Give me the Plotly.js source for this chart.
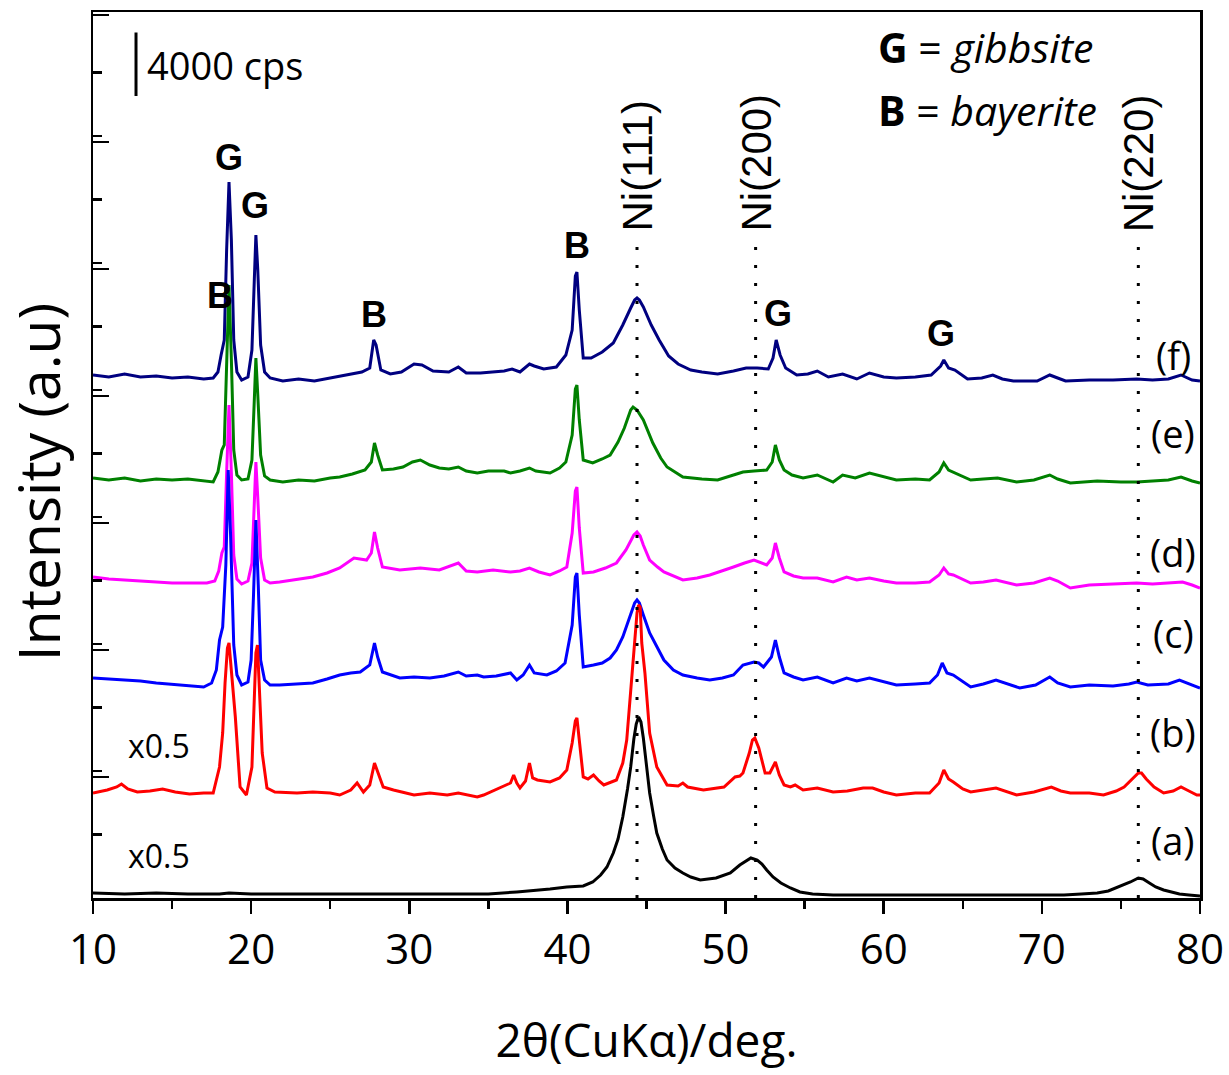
<!DOCTYPE html>
<html><head><meta charset="utf-8">
<script src="https://cdn.plot.ly/plotly-3.0.1.min.js"></script>
<style>html,body{margin:0;padding:0;background:#fff}</style>
</head><body>
<div id="plot" style="width:1229px;height:1075px"></div>
<script>
// 2θ (deg) , intensity above each pattern's baseline (a.u.)
const patA = [[10,1],[12,0],[14,1],[16,0],[18,0],[18.6,1],[20,0],[22,0],[24,0],[26,0],[28,0],[30,0],[32,0],[33.5,0],[35,0],[36.8,2],[37.6,3],[38.9,5],[39.96,7],[40.6,8],[41.0,8],[41.6,12],[42.1,19],[42.5,27],[42.9,41],[43.2,55],[43.5,77],[43.8,105],[44.0,127],[44.2,155],[44.35,170],[44.5,177],[44.65,172],[44.8,156],[45.0,130],[45.2,101],[45.45,78],[45.65,61],[46.0,45],[46.3,34],[46.8,26],[47.3,21],[47.8,17],[48.4,14],[49.4,16],[50.0,19],[50.3,21],[50.9,29],[51.3,33],[51.6,36],[52.0,34],[52.3,30],[52.6,24],[53.0,17],[53.5,11],[54.1,6],[54.7,2],[55.5,0],[56.8,-1],[58,-1],[60,-1],[62,-1],[64,-1],[66,-1],[68,-1],[70,-1],[71.4,-1],[72.5,0],[73.5,1],[74.2,3],[74.7,6],[75.2,9],[75.6,12],[76.1,16],[76.4,15],[76.8,11],[77.2,7],[77.7,4],[78.2,2],[78.7,0],[79.3,-1],[80,-2]];
const patB = [[10,0],[10.9,3],[11.5,6],[11.8,9],[12.2,4],[12.8,1],[13.6,2],[14.4,4],[15.2,1],[16.1,-1],[17.0,0],[17.6,0],[18.0,26],[18.2,60],[18.35,110],[18.5,145],[18.6,150],[18.75,120],[19.0,76],[19.3,6],[19.7,-2],[20.05,26],[20.2,100],[20.3,140],[20.4,148],[20.55,90],[20.7,40],[21.0,5],[21.5,1],[22.9,0],[23.9,1],[25.0,0],[25.6,-2],[26.3,3],[26.7,10],[27.1,1],[27.5,8],[27.8,30],[28.05,18],[28.35,6],[29.0,3],[30.3,-2],[31.3,0],[32.4,-2],[33.1,0],[34.3,-4],[34.7,-2],[35.7,5],[36.4,10],[36.6,18],[36.8,10],[37.0,5],[37.35,12],[37.6,30],[37.8,15],[38.1,13],[38.9,11],[39.5,15],[39.96,23],[40.3,50],[40.5,72],[40.6,75],[40.8,45],[41.0,16],[41.3,14],[41.65,18],[42.0,12],[42.3,8],[43.1,13],[43.5,30],[43.75,53],[44.0,100],[44.2,136],[44.4,180],[44.5,188],[44.6,186],[44.7,150],[44.9,120],[45.2,60],[45.65,26],[46.3,8],[47.0,7],[47.3,10],[47.6,6],[48.6,3],[49.9,6],[50.6,16],[50.9,17],[51.1,20],[51.5,40],[51.7,53],[51.85,55],[52.1,45],[52.5,20],[52.8,20],[53.15,31],[53.4,18],[53.7,8],[54.1,6],[54.4,8],[54.9,3],[55.8,5],[56.8,1],[57.7,2],[58.7,5],[59.3,5],[60.0,1],[60.8,-2],[62.0,0],[62.9,0],[63.5,10],[63.8,23],[64.1,14],[64.4,11],[65.0,4],[65.5,1],[66.3,3],[67.1,5],[68.4,-2],[69.5,1],[70.6,6],[71.2,2],[71.8,0],[73.0,0],[73.9,-2],[74.7,2],[75.2,6],[75.8,16],[76.1,20],[76.3,20],[76.6,14],[77.1,6],[77.7,0],[78.3,2],[78.8,6],[79.3,2],[79.8,-2],[80,-2]];
const patC = [[10,7],[11,6],[12,5],[12.3,5],[13,4],[14,2],[15.5,0],[16.5,-1],[17.0,-2],[17.5,2],[17.8,15],[18.0,45],[18.2,58],[18.4,120],[18.55,215],[18.7,150],[18.9,40],[19.1,10],[19.4,0],[19.8,3],[20.0,25],[20.15,90],[20.3,165],[20.45,100],[20.6,25],[20.85,5],[21.2,0],[21.8,0],[22.8,1],[23.9,2],[24.8,6],[25.6,10],[26.3,12],[26.9,13],[27.5,20],[27.8,42],[28.0,28],[28.3,13],[29.4,7],[30.3,8],[31.3,7],[32.2,9],[33.1,13],[33.6,9],[34.3,10],[34.7,8],[35.5,9],[36.4,12],[36.8,5],[37.2,10],[37.6,20],[37.9,12],[38.7,10],[39.3,14],[39.85,22],[40.3,60],[40.5,108],[40.6,112],[40.75,70],[41.0,18],[41.65,20],[42.2,22],[42.7,27],[43.1,35],[43.5,48],[44.0,70],[44.25,82],[44.4,85],[44.55,82],[44.8,70],[45.2,52],[45.7,37],[46.1,25],[46.7,15],[47.3,10],[48.2,7],[49.0,5],[49.8,7],[50.5,10],[51.1,20],[51.5,22],[51.8,23],[52.1,22],[52.4,18],[52.9,28],[53.15,45],[53.4,28],[53.7,12],[54.3,8],[54.9,5],[55.8,8],[56.8,2],[57.65,7],[58.3,4],[59.1,7],[60.0,3],[60.8,0],[62.0,1],[62.9,2],[63.4,10],[63.7,22],[64.0,12],[64.4,10],[65.5,-2],[66.3,1],[67.1,5],[68.6,-3],[69.6,0],[70.5,8],[71.0,2],[71.8,-2],[73,0],[74.5,-1],[75.5,1],[76.0,3],[76.7,0],[78.0,1],[78.7,5],[79.3,1],[80,-3]];
const patD = [[10,6],[11,4],[12,3],[13,2],[14,1],[14.4,1],[15,0],[16,0],[17.2,0],[17.7,2],[17.95,12],[18.15,30],[18.3,36],[18.45,110],[18.6,178],[18.75,110],[18.9,28],[19.1,4],[19.4,-1],[19.8,2],[20.05,20],[20.2,80],[20.3,121],[20.42,85],[20.6,25],[20.85,3],[21.2,0],[21.8,1],[23,4],[23.9,6],[24.8,10],[25.6,15],[26.5,25],[27.3,23],[27.6,30],[27.8,51],[28.0,35],[28.3,16],[29.4,13],[30.7,15],[31.9,13],[33.1,20],[33.6,12],[34.3,11],[35.3,13],[36.4,11],[37.0,12],[37.6,15],[38.2,11],[38.9,8],[39.5,12],[39.96,16],[40.3,50],[40.5,92],[40.6,96],[40.75,55],[41.0,10],[41.65,11],[42.4,15],[43.1,20],[43.7,33],[44.2,48],[44.4,51],[44.6,47],[44.8,38],[45.2,23],[45.7,16],[46.1,11],[47.3,3],[48.2,5],[49.0,8],[49.8,12],[50.5,16],[51.2,20],[51.8,23],[52.6,18],[52.95,25],[53.15,40],[53.4,25],[53.7,11],[54.3,7],[54.9,5],[55.8,5],[56.8,1],[57.65,6],[58.3,3],[59.1,5],[60.0,2],[60.8,0],[62.0,0],[62.9,1],[63.5,8],[63.8,15],[64.1,9],[64.4,8],[65.5,0],[66.3,1],[67.1,3],[68.4,-2],[69.5,0],[70.5,5],[71.0,2],[71.8,-5],[73,-2],[74.5,-1],[76.0,0],[77,-1],[78.0,0],[78.9,1],[79.5,-2],[80,-5]];
const patE = [[10,2],[11,0],[12,2],[13,-1],[14,1],[15,0],[16,1],[17,-1],[17.6,-2],[17.9,8],[18.15,30],[18.3,35],[18.45,120],[18.6,195],[18.75,120],[18.9,30],[19.1,5],[19.4,0],[19.8,1],[20.05,20],[20.2,80],[20.3,122],[20.42,85],[20.6,25],[20.85,4],[21.2,0],[22,-2],[23,0],[24,-1],[25,2],[25.6,3],[26.4,6],[27.2,10],[27.6,18],[27.8,37],[28.0,25],[28.3,10],[29.0,11],[29.6,13],[30.2,18],[30.7,20],[31.3,15],[31.9,12],[32.5,11],[33.1,13],[33.6,9],[34.3,7],[35.0,9],[36.0,9],[36.4,7],[37.0,9],[37.6,12],[38.0,9],[38.9,7],[39.5,12],[39.9,18],[40.3,45],[40.5,91],[40.6,95],[40.75,60],[41.0,20],[41.6,17],[42.2,21],[42.7,25],[43.2,38],[43.6,52],[44.0,70],[44.15,73],[44.4,70],[44.8,60],[45.4,37],[45.9,22],[46.3,13],[47.3,3],[48.5,1],[49.5,0],[50.5,5],[51.1,8],[51.8,9],[52.6,10],[52.95,18],[53.15,35],[53.4,20],[53.7,10],[54.2,5],[54.9,2],[55.8,5],[56.8,-2],[57.4,5],[58.2,2],[59.1,7],[60.0,3],[60.8,0],[62.0,1],[62.9,0],[63.5,8],[63.8,17],[64.1,10],[64.4,8],[65.5,0],[66.3,1],[67.2,2],[68.4,-2],[69.5,0],[70.5,5],[71.0,1],[71.8,-3],[73.5,-1],[75.0,-2],[76.0,-2],[77.0,-1],[78.0,0],[78.8,3],[79.5,-1],[80,-3]];
const patF = [[10,3],[11,1],[12,4],[13,1],[14,2],[15,0],[16,1],[17,-1],[17.6,0],[17.9,6],[18.1,23],[18.3,38],[18.45,128],[18.6,196],[18.75,138],[18.9,38],[19.1,6],[19.4,-2],[19.8,1],[20.05,28],[20.2,98],[20.3,143],[20.42,108],[20.6,33],[20.85,6],[21.2,0],[22,-3],[23,-1],[24,-3],[25,0],[26,3],[27,6],[27.5,10],[27.75,38],[27.9,33],[28.2,8],[28.8,4],[29.5,6],[30.3,14],[30.8,13],[31.5,7],[32.5,6],[33.1,11],[33.6,5],[34.5,5],[35.5,6],[36.0,7],[36.5,9],[37.0,6],[37.6,14],[37.9,12],[38.5,9],[39.3,11],[39.9,23],[40.3,48],[40.5,102],[40.6,106],[40.75,68],[41.0,20],[41.5,20],[42.2,26],[42.9,35],[43.5,53],[44.0,70],[44.25,78],[44.4,80],[44.55,78],[44.8,71],[45.3,53],[45.8,38],[46.4,22],[47.0,14],[47.8,8],[48.5,6],[49.5,4],[50.5,7],[51.3,10],[52.0,10],[52.7,9],[53.0,20],[53.2,38],[53.45,23],[53.8,10],[54.5,3],[55.2,4],[55.8,7],[56.5,1],[57.4,4],[58.3,-1],[59.1,5],[60.0,1],[60.8,0],[62.0,1],[63.0,3],[63.6,12],[63.8,18],[64.1,10],[64.5,8],[65.3,-1],[66.2,0],[66.9,3],[67.5,-1],[68.2,-3],[69.7,-3],[70.5,3],[71.0,0],[71.5,-3],[73.0,-2],[74.5,-2],[76.0,-1],[77.0,-2],[78.0,-1],[78.8,3],[79.5,-2],[80,-3]];

const sampleLabels = ['(a)','(b)','(c)','(d)','(e)','(f)'];
const sampleOffsets = [4, 105, 213, 315, 418, 520];
const sampleColors = ['#000000','#ff0000','#0000ff','#ff00ff','#008000','#000080'];
const samplePatterns = [patA, patB, patC, patD, patE, patF];
const scaleNotes = ['x0.5','x0.5','','','',''];

const niPeaks = [44.4, 51.9, 76.1];
const niLabels = ['Ni(111)','Ni(200)','Ni(220)'];

const phaseMarks = [
  {t:'G', x:18.6, y:741}, {t:'G', x:20.25, y:693}, {t:'B', x:18.0, y:603},
  {t:'B', x:27.8, y:584}, {t:'B', x:40.6, y:653}, {t:'G', x:53.3, y:585}, {t:'G', x:63.6, y:565}
];

const traces = [];
for (let i = samplePatterns.length - 1; i >= 0; i--) {
  traces.push({
    type:'scatter', mode:'lines',
    x: samplePatterns[i].map(p => p[0]),
    y: samplePatterns[i].map(p => p[1] + sampleOffsets[i]),
    line:{color: sampleColors[i], width:3},
    name: sampleLabels[i], hoverinfo:'skip'
  });
}

const calib = 'Open Sans, Lato, sans-serif';
const arial = 'Liberation Sans, Arial, sans-serif';
const annotations = [];
phaseMarks.forEach(m => annotations.push({x:m.x, y:m.y, xref:'x', yref:'y', text:'<b>'+m.t+'</b>', showarrow:false, font:{family:arial, size:36, color:'#000'}}));
niPeaks.forEach((p,i) => annotations.push({x:p, y:664, xref:'x', yref:'y', text:niLabels[i], textangle:-90, yanchor:'bottom', xanchor:'center', showarrow:false, font:{family:arial, size:42, color:'#000'}}));
const labelY = [58, 166, 265, 346, 465, 543];
sampleLabels.forEach((l,i) => annotations.push({x:78.3, y:labelY[i], xref:'x', yref:'y', text:l, showarrow:false, font:{family:calib, size:38, color:'#000'}}));
const noteY = [43, 153];
scaleNotes.forEach((n,i) => { if (n) annotations.push({x:14.2, y:noteY[i], xref:'x', yref:'y', text:n, showarrow:false, font:{family:calib, size:32, color:'#000'}}); });
annotations.push({x:13.3, y:833, xref:'x', yref:'y', xanchor:'left', text:'4000 cps', showarrow:false, font:{family:calib, size:38, color:'#000'}});
annotations.push({x:59.5, y:851, xref:'x', yref:'y', xanchor:'left', text:'<b>G</b> = <i>gibbsite</i>', showarrow:false, font:{family:calib, size:41, color:'#000'}});
annotations.push({x:59.5, y:788, xref:'x', yref:'y', xanchor:'left', text:'<b>B</b> = <i>bayerite</i>', showarrow:false, font:{family:calib, size:41, color:'#000'}});
// y-axis title (placed like the original, slightly below the plot centre)
annotations.push({x:-0.05, y:0.47, xref:'paper', yref:'paper', xanchor:'center', yanchor:'middle', textangle:-90, text:'Intensity (a.u)', showarrow:false, font:{family:calib, size:57, color:'#000'}});

const shapes = [];
niPeaks.forEach(p => shapes.push({type:'line', xref:'x', yref:'y', x0:p, x1:p, y0:0, y1:662, line:{color:'#000', width:3, dash:'3px,15px'}}));
// scale bar: 4000 cps (major tick = 8000 cps = 127 units)
shapes.push({type:'line', xref:'x', yref:'y', x0:12.72, x1:12.72, y0:802, y1:865.5, line:{color:'#000', width:3}});

const layout = {
  width:1229, height:1075,
  margin:{l:93, r:29, t:12, b:177},
  paper_bgcolor:'#fff', plot_bgcolor:'#fff',
  showlegend:false,
  xaxis:{range:[10,80], tick0:10, dtick:10, ticks:'outside', ticklen:13, tickwidth:2.5, tickcolor:'#000',
    minor:{dtick:5, ticks:'outside', ticklen:8, tickwidth:2.5, tickcolor:'#000'},
    showline:true, linewidth:2.5, linecolor:'#000', mirror:true, showgrid:false, zeroline:false,
    tickfont:{family:calib, size:42, color:'#000'},
    title:{text:'2θ(CuKα)/deg.', font:{family:calib, size:46, color:'#000'}, standoff:50}},
  yaxis:{range:[0,886], tick0:-6, dtick:127, ticks:'inside', ticklen:16, tickwidth:2.5, tickcolor:'#000',
    minor:{dtick:63.5, ticks:'inside', ticklen:9, tickwidth:2.5, tickcolor:'#000'},
    showticklabels:false, showline:true, linewidth:2.5, linecolor:'#000', mirror:true, showgrid:false, zeroline:false},
  annotations:annotations, shapes:shapes
};
Plotly.newPlot('plot', traces, layout, {displayModeBar:false, staticPlot:true});
</script>
</body></html>
